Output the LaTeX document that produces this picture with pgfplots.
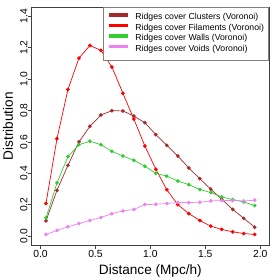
\documentclass[border=0pt]{standalone}
\usepackage{pgfplots}
\pgfplotsset{compat=1.18}
\usepackage{fontspec}
\setmainfont{Liberation Sans}
\definecolor{rbrown}{HTML}{A52A2A}
\definecolor{rred}{HTML}{FF0000}
\definecolor{rgreen}{HTML}{32CD32}
\definecolor{rviolet}{HTML}{EE82EE}
\pgfplotstableread{
x clu fil wal voi
0.05 0.097 0.208 0.116 0.011
0.15 0.292 0.620 0.339 0.037
0.25 0.451 0.933 0.506 0.060
0.35 0.600 1.133 0.582 0.081
0.45 0.699 1.213 0.604 0.100
0.55 0.771 1.182 0.582 0.119
0.65 0.798 1.076 0.540 0.143
0.75 0.797 0.910 0.510 0.161
0.85 0.764 0.745 0.483 0.170
0.95 0.722 0.574 0.445 0.201
1.05 0.646 0.426 0.400 0.203
1.15 0.578 0.295 0.382 0.208
1.25 0.510 0.201 0.351 0.214
1.35 0.434 0.144 0.328 0.214
1.45 0.366 0.100 0.297 0.216
1.55 0.299 0.064 0.278 0.224
1.65 0.235 0.043 0.250 0.227
1.75 0.170 0.028 0.233 0.227
1.85 0.114 0.017 0.218 0.224
1.95 0.057 0.011 0.195 0.229
}\data
\begin{document}
\begin{tikzpicture}
\useasboundingbox (0,0) rectangle (277pt,277pt);
\begin{axis}[
  at={(31.7pt,32pt)}, anchor=south west,
  scale only axis, width=237.3pt, height=237.7pt,
  xmin=-0.08, xmax=2.08, ymin=-0.056, ymax=1.456,
  xtick={0,0.5,1,1.5,2}, ytick={0,0.2,0.4,0.6,0.8,1.0,1.2,1.4},
  xtick pos=left, ytick pos=left, tick align=outside,
  major tick length=4pt,
  axis line style={black!75, line width=0.6pt},
  tick style={black!75, line width=0.6pt},
  /pgf/number format/assume math mode=true,
  xticklabel={\pgfmathprintnumber[fixed,precision=1,fixed zerofill]{\tick}},
  yticklabel={\pgfmathprintnumber[fixed,precision=1,fixed zerofill]{\tick}},
  ticklabel style={font=\fontsize{10.3}{12}\selectfont},
  xticklabel style={anchor=north, inner sep=0pt, yshift=-1pt},
  yticklabel style={rotate=90, anchor=south, inner sep=0pt},
  every axis x label/.style={at={(axis description cs:0.5,-0.0833)}, anchor=north, inner sep=0pt, font=\fontsize{13.6}{16}\selectfont},
  every axis y label/.style={at={(axis description cs:-0.0775,0.5)}, rotate=90, anchor=south, inner sep=0pt, font=\fontsize{13.6}{16}\selectfont},
  xlabel={Distance (Mpc/h)}, ylabel={Distribution},
  legend style={at={(1,1)}, anchor=north east, draw=gray, line width=0.6pt, fill=white,
    font=\fontsize{8.7}{10}\selectfont, inner xsep=4.7pt, inner ysep=5.1pt, row sep=0pt,
    nodes={inner sep=0pt, text height=6.8pt, text depth=3.7pt},
    /tikz/every odd column/.append style={column sep=5.7pt}},
  legend cell align=left,
  legend image code/.code={\draw[line width=3.2pt] (0pt,2.9pt) -- (18.6pt,2.9pt);},
  every axis plot/.append style={line width=0.7pt, mark=*, mark size=1.5pt},
]
\addplot[rbrown, mark options={fill=rbrown}] table[x=x,y=clu]{\data};
\addplot[rred, mark options={fill=rred}] table[x=x,y=fil]{\data};
\addplot[rgreen, mark options={fill=rgreen}] table[x=x,y=wal]{\data};
\addplot[rviolet, mark options={fill=rviolet}] table[x=x,y=voi]{\data};
\legend{Ridges cover Clusters (Voronoi),Ridges cover Filaments (Voronoi),Ridges cover Walls (Voronoi),Ridges cover Voids (Voronoi)}
\end{axis}
\end{tikzpicture}
\end{document}
